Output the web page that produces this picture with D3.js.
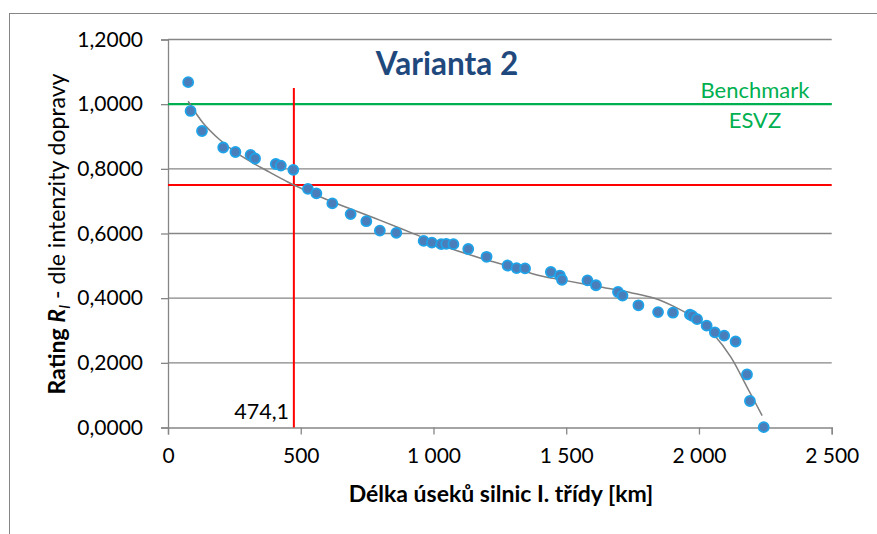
<!DOCTYPE html>
<html><head><meta charset="utf-8">
<script src="https://cdn.jsdelivr.net/npm/d3@7"></script>
<style>body{margin:0;background:#fff}svg{display:block}text{font-family:Lato,"Open Sans",sans-serif}</style>
</head><body><div id="chart"></div>
<script>
// Data points (length km, rating)
const lengths = [76,85,128,208,254,311,328,406,425,472,527,559,619,688,747,798,860,963,994,1029,1048,1075,1131,1200,1279,1313,1345,1442,1476,1484,1580,1612,1695,1712,1772,1846,1902,1966,1975,1993,2029,2060,2095,2138,2181,2192,2244];
const ratings = [1.068,0.979,0.917,0.866,0.852,0.843,0.832,0.815,0.810,0.797,0.738,0.724,0.693,0.660,0.638,0.609,0.602,0.577,0.572,0.567,0.568,0.567,0.552,0.528,0.501,0.493,0.492,0.481,0.470,0.457,0.455,0.440,0.419,0.408,0.378,0.357,0.355,0.349,0.345,0.335,0.315,0.294,0.284,0.266,0.164,0.082,0.001];
// Trend curve
const trendX = [76,132,195,257,320,382,445,474,595,795,920,1045,1169,1294,1394,1494,1619,1744,1832,1907,1994,2057,2119,2181,2238];
const trendY = [1.009,0.942,0.890,0.850,0.818,0.790,0.762,0.750,0.706,0.642,0.601,0.559,0.526,0.497,0.471,0.455,0.436,0.417,0.400,0.374,0.333,0.286,0.219,0.125,0.037];
// Reference lines
const benchmark = 1.0;
const threshold = 0.75;
const cutLength = 474.1;
const cutTop = 1.05;
const xTicks = [0,500,1000,1500,2000,2500];
const xTickLabels = ["0","500","1 000","1 500","2 000","2 500"];
const yTicks = [0,0.2,0.4,0.6,0.8,1.0,1.2];
const yTickLabels = ["0,0000","0,2000","0,4000","0,6000","0,8000","1,0000","1,2000"];
const titleText = "Varianta 2";
const benchLabel = ["Benchmark","ESVZ"];
const cutLabel = "474,1";
const xTitle = "Délka úseků silnic I. třídy [km]";

const W = 877, H = 534;
const svg = d3.select("#chart").append("svg").attr("width", W).attr("height", H);
const x = d3.scaleLinear().domain([0,2500]).range([168,831.7]);
const y = d3.scaleLinear().domain([0,1.2]).range([427.5,39.5]);
const grey = "#868686";

svg.append("rect").attr("x",9.5).attr("y",13.5).attr("width",900).attr("height",600)
  .attr("fill","none").attr("stroke",grey).attr("stroke-width",1);

// gridlines
svg.append("g").selectAll("line").data(yTicks.filter(d=>d>0)).join("line")
  .attr("x1",x(0)).attr("x2",x(2500)).attr("y1",d=>y(d)).attr("y2",d=>y(d))
  .attr("stroke",grey).attr("stroke-width",1.3);

// axes
const xAxis = d3.axisBottom(x).tickValues(xTicks).tickFormat((d,i)=>xTickLabels[i]).tickSize(7).tickPadding(9);
const gx = svg.append("g").attr("transform",`translate(0,${y(0)})`).call(xAxis);
const yAxis = d3.axisLeft(y).tickValues(yTicks).tickFormat((d,i)=>yTickLabels[i]).tickSize(7).tickPadding(18);
const gy = svg.append("g").attr("transform",`translate(${x(0)},0)`).call(yAxis);
[gx,gy].forEach(g=>{
  g.select(".domain").attr("stroke",grey).attr("stroke-width",1.3);
  g.selectAll(".tick line").attr("stroke",grey).attr("stroke-width",1.3);
  g.selectAll(".tick text").attr("fill","#000").style("font-size","21px").style("font-family","Lato");
});
gx.selectAll(".tick text").attr("dy","0.95em");

// reference lines
svg.append("line").attr("x1",x(0)).attr("x2",x(2500)).attr("y1",y(benchmark)).attr("y2",y(benchmark))
  .attr("stroke","#00B050").attr("stroke-width",2.2);
svg.append("line").attr("x1",x(0)).attr("x2",x(2500)).attr("y1",y(threshold)).attr("y2",y(threshold))
  .attr("stroke","#FF0000").attr("stroke-width",2);
svg.append("line").attr("x1",x(cutLength)).attr("x2",x(cutLength)).attr("y1",y(0)).attr("y2",y(cutTop))
  .attr("stroke","#FF0000").attr("stroke-width",2);

// trend line
const trend = trendX.map((v,i)=>[v,trendY[i]]);
svg.append("path").datum(trend)
  .attr("d", d3.line().x(d=>x(d[0])).y(d=>y(d[1])).curve(d3.curveCatmullRom))
  .attr("fill","none").attr("stroke","#7f7f7f").attr("stroke-width",1.5);

// points
const pts = lengths.map((v,i)=>[v,ratings[i]]);
svg.append("g").selectAll("circle").data(pts).join("circle")
  .attr("cx",d=>x(d[0])).attr("cy",d=>y(d[1])).attr("r",5)
  .attr("fill","#4A7EBB").attr("stroke","#1FA3E8").attr("stroke-width",1.8);

// texts
svg.append("text").attr("x",447).attr("y",75).attr("text-anchor","middle")
  .style("font-size","31.5px").style("font-weight","bold").attr("fill","#1F497D").text(titleText);
svg.append("text").attr("x",755).attr("y",98).attr("text-anchor","middle")
  .style("font-size","22px").attr("fill","#00B050").text(benchLabel[0]);
svg.append("text").attr("x",755).attr("y",128).attr("text-anchor","middle")
  .style("font-size","22px").attr("fill","#00B050").text(benchLabel[1]);
svg.append("text").attr("x",289).attr("y",419).attr("text-anchor","end")
  .style("font-size","21.5px").attr("fill","#000").text(cutLabel);
svg.append("text").attr("x",501).attr("y",502).attr("text-anchor","middle")
  .style("font-size","23px").style("font-weight","bold").attr("fill","#000").text(xTitle);

const yt = svg.append("text").attr("transform","translate(65,234) rotate(-90)")
  .attr("text-anchor","middle").style("font-size","23px").attr("fill","#000");
yt.append("tspan").style("font-weight","bold").text("Rating ");
yt.append("tspan").style("font-weight","bold").style("font-style","italic").text("R");
yt.append("tspan").style("font-style","italic").style("font-size","16px").attr("dy","5").text("I");
yt.append("tspan").attr("dy","-5").text(" - dle intenzity dopravy");
</script></body></html>
